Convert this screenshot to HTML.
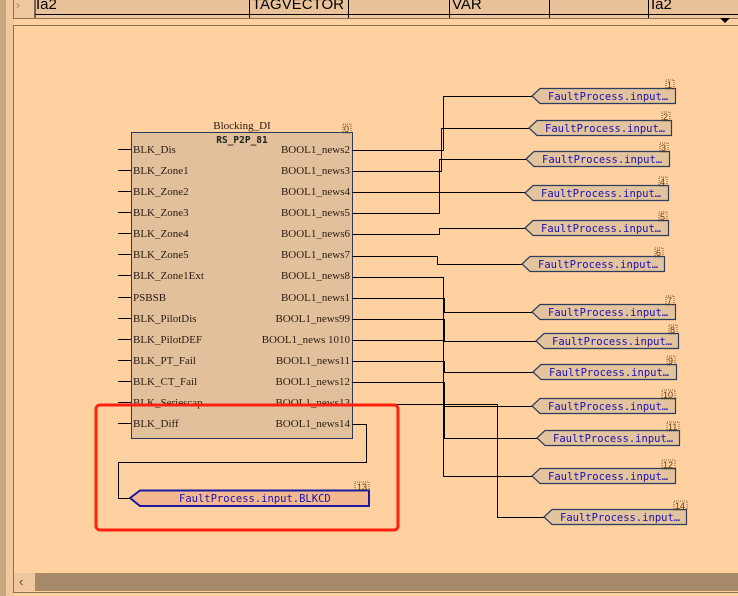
<!DOCTYPE html>
<html><head><meta charset="utf-8"><style>
html,body{margin:0;padding:0;width:738px;height:596px;overflow:hidden;background:#ffd0a0}
svg{display:block}
.s{font-family:"Liberation Serif",serif;font-size:11px;fill:#2a1a10}
.m{font-family:"DejaVu Sans Mono","Liberation Mono",monospace;font-size:10.5px;fill:#1c10b0}
.n{font-family:"Liberation Sans",sans-serif;font-size:9px;fill:#5a3a10}
</style></head><body>
<svg width="738" height="596" xmlns="http://www.w3.org/2000/svg">
<rect x="0" y="0" width="738" height="596" fill="#ffd0a0"/>
<rect x="0" y="0" width="6" height="596" fill="#c8a680"/>
<rect x="6" y="0" width="8" height="596" fill="#f0c8a0"/>
<rect x="13" y="0" width="725" height="18" fill="#f0c8a0"/>
<rect x="35" y="0" width="703" height="15" fill="#eac29a"/>
<line x1="35" y1="14.5" x2="738" y2="14.5" stroke="#000"/>
<g stroke="#000"><line x1="35" y1="0" x2="35" y2="18"/>
<line x1="249.5" y1="0" x2="249.5" y2="18"/><line x1="348.5" y1="0" x2="348.5" y2="18"/><line x1="449.5" y1="0" x2="449.5" y2="18"/><line x1="549.5" y1="0" x2="549.5" y2="18"/><line x1="648.5" y1="0" x2="648.5" y2="18"/></g>
<text x="36" y="9" font-family="Liberation Sans" font-size="15" fill="#000">Ia2</text>
<text x="252" y="9" font-family="Liberation Sans" font-size="15" fill="#000">TAGVECTOR</text>
<text x="452" y="9" font-family="Liberation Sans" font-size="15" fill="#000">VAR</text>
<text x="651" y="9" font-family="Liberation Sans" font-size="15" fill="#000">Ia2</text>
<text x="16" y="9" font-family="Liberation Sans" font-size="12" fill="#a08060">›</text>
<line x1="13.5" y1="0" x2="13.5" y2="18" stroke="#8a7050"/>
<line x1="13" y1="18.5" x2="738" y2="18.5" stroke="#8a7050"/>
<polygon points="720,18 730,18 725,23" fill="#000"/>
<line x1="13.5" y1="25" x2="13.5" y2="592" stroke="#8a7050"/>
<line x1="13" y1="25.5" x2="738" y2="25.5" stroke="#8a7050"/>
<rect x="35" y="573" width="703" height="18" fill="#a68a6a"/>
<rect x="14" y="573" width="21" height="18" fill="#f0c8a0"/>
<text x="19" y="586" font-family="Liberation Sans" font-size="13" fill="#5a4030">‹</text>
<line x1="13" y1="592.5" x2="738" y2="592.5" stroke="#8a7050"/>

<text class="s" x="242" y="129" text-anchor="middle">Blocking_DI</text>
<rect x="131.5" y="132.5" width="221" height="306" fill="#e2c09c" stroke="#2a3a5a"/>
<text x="242" y="143" text-anchor="middle" font-family="DejaVu Sans Mono,monospace" font-size="9.5" font-weight="bold" fill="#222">RS_P2P_81</text>
<g class="s">
<text x="133" y="153">BLK_Dis</text><text x="133" y="174">BLK_Zone1</text><text x="133" y="195">BLK_Zone2</text><text x="133" y="216">BLK_Zone3</text><text x="133" y="237">BLK_Zone4</text><text x="133" y="258">BLK_Zone5</text><text x="133" y="279">BLK_Zone1Ext</text><text x="133" y="301">PSBSB</text><text x="133" y="322">BLK_PilotDis</text><text x="133" y="343">BLK_PilotDEF</text><text x="133" y="364">BLK_PT_Fail</text><text x="133" y="385">BLK_CT_Fail</text><text x="133" y="406">BLK_Seriescap</text><text x="133" y="427">BLK_Diff</text>
</g>
<g class="s" text-anchor="end">
<text x="350" y="153">BOOL1_news2</text><text x="350" y="174">BOOL1_news3</text><text x="350" y="195">BOOL1_news4</text><text x="350" y="216">BOOL1_news5</text><text x="350" y="237">BOOL1_news6</text><text x="350" y="258">BOOL1_news7</text><text x="350" y="279">BOOL1_news8</text><text x="350" y="301">BOOL1_news1</text><text x="350" y="322">BOOL1_news99</text><text x="350" y="343">BOOL1_news 1010</text><text x="350" y="364">BOOL1_news11</text><text x="350" y="385">BOOL1_news12</text><text x="350" y="406">BOOL1_news13</text><text x="350" y="427">BOOL1_news14</text>
</g>
<g stroke="#000" stroke-width="1" fill="none">
<path d="M118 149.5H131M118 170.5H131M118 191.5H131M118 212.5H131M118 233.5H131M118 254.5H131M118 275.5H131M118 297.5H131M118 318.5H131M118 339.5H131M118 360.5H131M118 381.5H131M118 402.5H131M118 423.5H131"/>
<path d="M352 150.5H443.5V96.5H532"/>
<path d="M352 171.5H441.5V128.5H529"/>
<path d="M352 192.5H525"/>
<path d="M352 213.5H439.5V159.5H526"/>
<path d="M352 234.5H439.5V228.5H525"/>
<path d="M352 256.5H437.5V264.5H522"/>
<path d="M352 277.5H443.5V476.5H532"/>
<path d="M352 298.5H444.5V312.5H532"/>
<path d="M352 319.5H444.5V341.5H536"/>
<path d="M352 340.5H443.5"/>
<path d="M352 361.5H444.5V372.5H533"/>
<path d="M352 382.5H444.5V438.5H537"/>
<path d="M352 404.5H497.5V517.5H544"/>
<path d="M443 406.5H532"/>
<path d="M352 424.5H366.5V462.5H118.5V498.5H130"/>
</g>
<g stroke="#2b3e5e" stroke-width="1.2" fill="#e4c49e">
<path d="M532 96 L540 88.5 H675.5 V103.5 H540 Z"/>
<path d="M529 128 L537 120.5 H671.5 V135.5 H537 Z"/>
<path d="M526 159 L534 151.5 H669.5 V166.5 H534 Z"/>
<path d="M525 193 L533 185.5 H668.5 V200.5 H533 Z"/>
<path d="M525 228 L533 220.5 H668.5 V235.5 H533 Z"/>
<path d="M522 264 L530 256.5 H664.5 V271.5 H530 Z"/>
<path d="M532 312 L540 304.5 H675.5 V319.5 H540 Z"/>
<path d="M536 341 L544 333.5 H678.5 V348.5 H544 Z"/>
<path d="M533 372 L541 364.5 H676.5 V379.5 H541 Z"/>
<path d="M532 406 L540 398.5 H675.5 V413.5 H540 Z"/>
<path d="M537 438 L545 430.5 H679.5 V445.5 H545 Z"/>
<path d="M532 476 L540 468.5 H675.5 V483.5 H540 Z"/>
<path d="M544 517 L552 509.5 H686.5 V524.5 H552 Z"/>
</g>
<path d="M130 498 L140 490.5 H369 V506 H140 Z" fill="#f4b890" stroke="#1a1aa0" stroke-width="2"/>
<g class="m">
<text x="548" y="100">FaultProcess.input…</text>
<text x="545" y="132">FaultProcess.input…</text>
<text x="542" y="163">FaultProcess.input…</text>
<text x="541" y="197">FaultProcess.input…</text>
<text x="541" y="232">FaultProcess.input…</text>
<text x="538" y="268">FaultProcess.input…</text>
<text x="548" y="316">FaultProcess.input…</text>
<text x="552" y="345">FaultProcess.input…</text>
<text x="549" y="376">FaultProcess.input…</text>
<text x="548" y="410">FaultProcess.input…</text>
<text x="553" y="442">FaultProcess.input…</text>
<text x="548" y="480">FaultProcess.input…</text>
<text x="560" y="521">FaultProcess.input…</text>
<text x="179" y="502">FaultProcess.input.BLKCD</text>
</g>
<g fill="none" stroke="#5a3a10" stroke-width="0.8" stroke-dasharray="1,1">
<rect x="343" y="124" width="8" height="9"/>
<rect x="666" y="80" width="8" height="9"/><rect x="662" y="112" width="8" height="9"/><rect x="660" y="143" width="8" height="9"/><rect x="659" y="177" width="8" height="9"/><rect x="659" y="212" width="8" height="9"/><rect x="655" y="248" width="8" height="9"/><rect x="666" y="296" width="8" height="9"/><rect x="669" y="325" width="8" height="9"/><rect x="667" y="356" width="8" height="9"/><rect x="662" y="390" width="13" height="9"/><rect x="667" y="422" width="12" height="9"/><rect x="662" y="460" width="13" height="9"/><rect x="674" y="501" width="13" height="9"/><rect x="355" y="482" width="14" height="9"/>
</g>
<g class="n">
<text x="344" y="132">0</text>
<text x="667" y="88">1</text><text x="663" y="120">2</text><text x="661" y="151">3</text><text x="660" y="185">4</text><text x="660" y="220">5</text><text x="656" y="256">6</text><text x="667" y="304">7</text><text x="670" y="333">8</text><text x="668" y="364">9</text><text x="663" y="398">10</text><text x="668" y="430">11</text><text x="663" y="468">12</text><text x="675" y="509">14</text><text x="357" y="490">13</text>
</g>
<rect x="96" y="405" width="302" height="125" rx="4" fill="none" stroke="#ff2010" stroke-width="3"/>
</svg>
</body></html>
